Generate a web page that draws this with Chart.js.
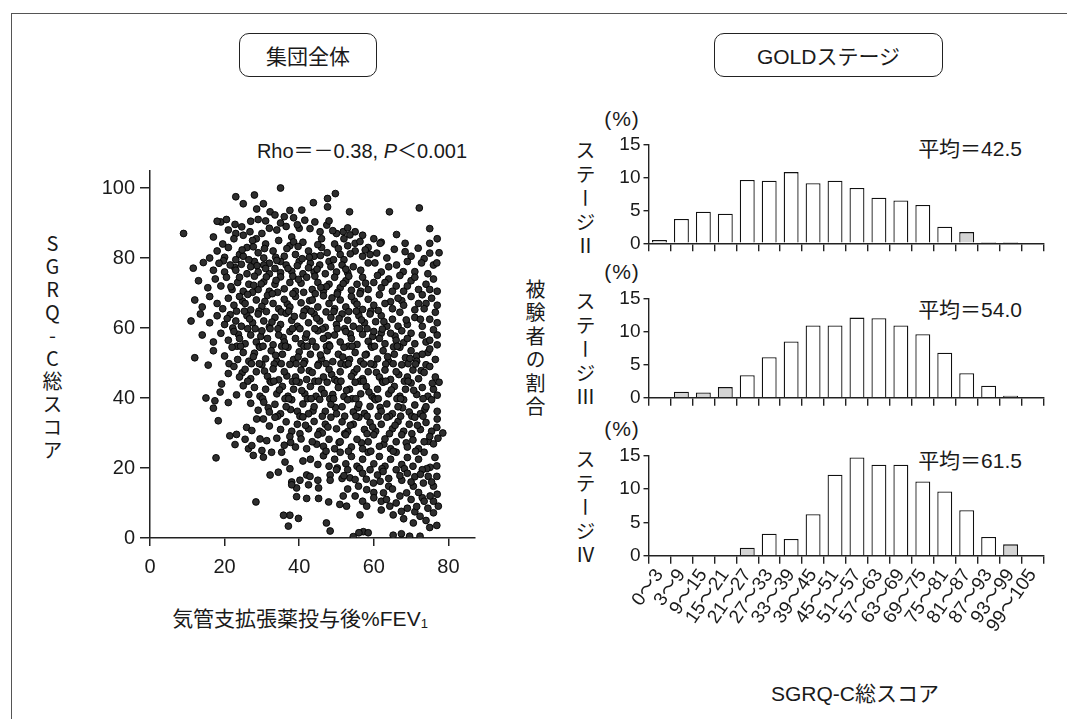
<!DOCTYPE html>
<html><head><meta charset="utf-8">
<script src="https://cdn.jsdelivr.net/npm/chart.js@4.4.1/dist/chart.umd.min.js"></script>
<style>
html,body{margin:0;padding:0;background:#fff;}
body{width:1067px;height:719px;position:relative;overflow:hidden;font-family:"Liberation Sans","Noto Sans CJK JP",sans-serif;color:#1a1a1a;}
.abs{position:absolute;white-space:nowrap;}
.frame{position:absolute;left:11px;top:13px;width:1100px;height:800px;border-left:1.5px solid #555;border-top:1.5px solid #555;}
.box{position:absolute;border:1.5px solid #222;border-radius:10px;display:flex;align-items:center;justify-content:center;font-size:21px;box-sizing:border-box;}
.vt{position:absolute;writing-mode:vertical-rl;text-orientation:upright;font-family:"Noto Sans CJK JP",sans-serif;font-size:20px;line-height:1;white-space:nowrap;}
.ctr{text-align:center;}
canvas{position:absolute;}
sub{font-size:13px;vertical-align:-2px;}
</style></head><body>
<div class="frame"></div>
<div class="box" style="left:239px;top:33px;width:138px;height:44px;">集団全体</div>
<div class="box" style="left:714px;top:33px;width:229px;height:44px;">GOLDステージ</div>
<div class="abs ctr" style="left:162px;width:400px;top:135px;font-size:20px;">Rho＝－0.38, <i>P</i>＜0.001</div>
<div class="vt" style="left:42px;top:233px;letter-spacing:3px;">SGRQ-C総スコア</div>
<div class="abs ctr" style="left:100px;width:400px;top:602px;font-size:21px;">気管支拡張薬投与後%FEV<sub>1</sub></div>
<div class="vt" style="left:525px;top:279px;letter-spacing:3.5px;">被験者の割合</div>
<div class="abs ctr" style="left:572px;width:100px;top:107px;font-size:21px;letter-spacing:1px;">(%)</div>
<div class="abs ctr" style="left:572px;width:100px;top:260px;font-size:21px;letter-spacing:1px;">(%)</div>
<div class="abs ctr" style="left:572px;width:100px;top:417px;font-size:21px;letter-spacing:1px;">(%)</div>
<div class="vt" style="left:575px;top:140px;letter-spacing:4px;">ステージⅡ</div>
<div class="vt" style="left:575px;top:291px;letter-spacing:4px;">ステージⅢ</div>
<div class="vt" style="left:575px;top:449px;letter-spacing:4px;">ステージⅣ</div>
<div class="abs" style="left:822px;width:200px;text-align:right;top:132px;font-size:21px;">平均＝42.5</div>
<div class="abs" style="left:822px;width:200px;text-align:right;top:293px;font-size:21px;">平均＝54.0</div>
<div class="abs" style="left:822px;width:200px;text-align:right;top:444px;font-size:21px;">平均＝61.5</div>
<div class="abs ctr" style="left:705px;width:300px;top:677px;font-size:21px;">SGRQ-C総スコア</div>

<canvas id="sc" width="440" height="480" style="left:60px;top:150px;"></canvas>
<canvas id="b2" width="460" height="134" style="left:600px;top:130px;"></canvas>
<canvas id="b3" width="460" height="134" style="left:600px;top:284px;"></canvas>
<canvas id="b4" width="460" height="230" style="left:600px;top:441px;"></canvas>

<script>
const FONT = '"Liberation Sans","Noto Sans CJK JP",sans-serif';
const INK = '#1a1a1a';

// SGRQ-C score bins (x categories of the histograms)
const scoreBins = ['0〜3','3〜9','9〜15','15〜21','21〜27','27〜33','33〜39','39〜45','45〜51','51〜57','57〜63','63〜69','69〜75','75〜81','81〜87','87〜93','93〜99','99〜105'];
// % of subjects per bin
const stageII  = [0.5,3.7,4.8,4.5,9.6,9.5,10.8,9.1,9.5,8.4,6.9,6.5,5.8,2.5,1.7,0.2,0.2,0];
const stageIII = [0,0.9,0.8,1.6,3.4,6.1,8.5,10.9,10.9,12.1,12.0,10.9,9.6,6.8,3.7,1.8,0.3,0.1];
const stageIV  = [0,0,0,0,1.2,3.3,2.5,6.2,12.1,14.7,13.6,13.6,11.1,9.6,6.8,2.8,1.7,0];
// bins drawn with a stippled (grey) fill
const shadedII  = [0,14,15,16];
const shadedIII = [1,2,3,16,17];
const shadedIV  = [4,16];
const yTicksPct = [0,5,10,15];
const xTicksFev = [0,20,40,60,80];
const yTicksSgrq = [0,20,40,60,80,100];

// scatter: [post-bronchodilator %FEV1, SGRQ-C total score]
const scatterPoints = [
[35,100],[28,98],[23,97.5],[49.7,98.4],[47.6,97],[43.8,95.8],[25,95.5],[30.4,95.5],[28.6,94],[37.5,93.6],[40.7,93.7],[47.6,94.6],[53.5,93.2],[64.2,93.2],[72.2,94.3],[9,87],[32.2,93.2],[33.5,92.3],[19,90.3],[22.8,89.6],[24.6,88.9],[26.8,87.5],[44.2,90.3],[47.4,89.4],[42.9,88.4],[45.6,87.5],[50,87],[51.8,87.5],[55,87.5],[53.6,86.6],[66.1,86.7],[75,88.4],
[18,90.5],[20.5,91],[21,88],[23,87],[25,86.5],[27,90.5],[29,91],[31,90.6],[35,90],[34,88],[32,88.5],[30,87],[36.5,89],[38.5,91.5],[40,88.5],[41.5,90.8],[49,87.8],[48,90.6],[53,88.6],[57,86.5],[60,85.5],[17,86],[28.5,85.5],[38,86],[46,85.5],[52,85.5],[62,84.5],[39.5,89.5],[36,91.8],
[14.3,78.7],[11.6,77.1],[16,80],[18,82],[19.5,84],[21,83],[22.5,85.5],[24,81],[26,83],[27.5,85],[29,81.5],[31,84],[33,82],[34.5,85],[36,80.5],[37.5,83.5],[39,81],[41,84.5],[42.5,82],[44,80.5],[46,83],[47.5,81.5],[49.5,84],[51,81],[53,83.5],[55,82],[57,80.5],[58.5,83],[61.7,84.2],[55,84.2],[56.3,84.7],[59,81],[60.8,81.4],[68.4,84.2],[68.4,81.8],[71.9,82.8],[75,84.2],[75,81.4],[23,79.5],[25,80.5],[28,79],[30.5,80],[32,78.5],[35,79],[40,79],[43,78.5],[48,79],[52,79.5],[20,80.2],[45,83.8],[38.5,84.6],
[24.7,82.3],[27.7,83.2],[30.7,82.7],[33.7,80.2],[36.7,82.7],[39.7,83.3],[42.7,80.2],[45.7,80.7],[50.5,82.7],[53.7,81.2],[57.7,82.3],[19.7,79.2],[22.7,77.3],[28.7,77.8],[63.5,80],[65.5,82.5],[70,80.5],[73.5,79.8],[77.5,81.5],[77,85.5],
[17,76.5],[18.5,78.5],[20,76],[21.5,78],[23,76.5],[24.5,78.2],[26,75.5],[27,77.5],[29,76],[30.5,78],[32,75.5],[33.5,77],[35,75.8],[36.5,78],[38,76.2],[39.5,77.8],[41,75.5],[42.5,77.2],[44,76],[45.5,78],[47,75.5],[48.5,77.5],[50,76],[51.5,78],[53,75.8],[54.5,77.5],[56.5,76.5],[58.5,78.6],[60.3,78.6],[62,76],[66.1,78],[67.9,76.1],[71,76.1],[72.8,78.6],[76,78],[76.9,78.6],[74.5,75.5],[64,77.5],[69,79],
[26.5,79.5],[31,77],[34,79.3],[37,77],[40.8,79.8],[44.8,76.8],[49.2,79.5],[52.5,76.8],
[13,73.5],[15.5,71.5],[17.5,74],[19,72],[20.5,74.5],[22,71],[23.5,73],[25,70.5],[26.5,72.5],[28,74.8],[29,71],[30.5,73.2],[32,70.5],[33.5,72.5],[35,74.6],[36,71.2],[37.5,73],[39,70.5],[40.5,72.8],[42,74.5],[43.5,71],[45,73],[46.5,70.5],[48,72.5],[49.5,74.5],[51,71.5],[52.5,73.5],[54,70.8],[55.5,72.5],[57,74.5],[58.5,71],[60,73],[62,71.5],[64,74],[66,72],[68,70.5],[70,73.5],[72,71],[74,72.5],[76,74],[77,70.5],[61,75],[67,75],
[24,74.5],[27.5,70.2],[31.2,74.6],[34.2,70.2],[38.3,74.8],[41.2,70.2],[44.2,74.8],[47.3,71.8],[50.3,70.2],[53.3,74.8],[56.5,70.5],[29.8,72.6],
[21.7,71.8],[24.8,67.7],[27.8,72.2],[30.8,67.6],[33.8,73.6],[36.8,66.9],[39.8,73.9],[42.8,67.8],[45.8,71.6],[48.8,68.6],[51.8,72.7],[54.8,67.7],[57.8,72.8],
[63,73],[65,70.5],[69,72],[71,74.5],[73,69.5],[75,71],[64.5,67.5],[67.5,67.8],[71,65.2],[74,67],
[12,68],[14,66],[16,69],[18,67],[19.5,65.5],[21,68.5],[22.5,66.5],[24,69],[25.5,67],[27,65.2],[28.5,68],[30,66.2],[31.5,69.3],[33,67],[34.5,65.5],[36,68.2],[37.5,66],[39,69],[40.5,67.2],[42,65.4],[43.5,68],[45,66],[46.5,69.2],[48,67],[49.5,65.5],[51,68],[52.5,66],[54,69],[55.5,66.8],[57,65.3],[58.5,68.2],[60,66.5],[61.5,69.5],[63,67],[65,65.5],[66.5,68.5],[68,66.5],[70,69],[72,67],[73.5,65.5],[75.5,68.5],[77,66.5],
[23.2,64.8],[26.2,69.6],[29.2,64.8],[32.8,69.8],[35.2,64.6],[38.3,69.8],[41.3,64.8],[44.3,69.8],[47.2,64.6],[50.2,69.7],[53.3,64.7],[56.3,69.8],[59.2,64.8],
[11,62],[13.5,64],[16,61.5],[18,63.5],[20,61],[21.5,63.8],[23,62],[24.5,60.5],[26,63.5],[27.5,61.5],[29,64],[30.5,62],[32,60.3],[33.5,63],[35,61],[36.5,64.2],[38,62.2],[39.5,60.5],[41,63.5],[42.5,61.5],[44,64],[45.5,62],[47,60.2],[48.5,63],[50,61],[51.5,64],[53,62.2],[54.5,60.5],[56,63.5],[57.5,61.5],[59,64],[60.5,61.8],[62,63.5],[63.5,60.5],[65,62.5],[67,64.5],[69,61],[71,63],[73,60.5],[75,62.5],[77,61.5],[76.5,64.5],
[22.2,60],[25.3,64.8],[28.2,59.8],[31.2,64.7],[34.3,59.8],[37.2,64.8],[40.2,59.8],[43.2,64.8],[46.2,59.7],[49.3,64.7],[52.2,59.8],[55.3,64.8],[58.2,59.8],[61.2,65],
[20.7,62.7],[23.7,58.2],[26.7,62.6],[29.7,57.6],[32.7,61.7],[35.7,57.3],[38.7,63.3],[41.7,57.3],[44.7,62.8],[47.7,57.8],[50.7,62.7],[53.7,58.3],[56.7,62.3],[59.7,57.6],[62.7,61.8],[65.7,57.7],[68.7,62.3],
[62,58.5],[66.5,60.5],[70,58.5],[72.5,62.5],[74,56],[68,55.8],[71.5,52],[74.5,53],[77,58],
[14,58],[17,56],[19,58.5],[21,56.5],[22.5,59],[24,57],[25.5,55.5],[27,58],[28.5,56],[30,59.2],[31.5,57],[33,55.2],[34.5,58],[36,56],[37.5,59],[39,57],[40.5,55.5],[42,58.3],[43.5,56.2],[45,59.2],[46.5,57],[48,55.2],[49.5,58],[51,56],[52.5,59],[54,57],[55.5,55.3],[57,58.2],[58.5,56.2],[60,59],[61.5,57],[63,55.5],[64.5,58.5],[66,56.5],[67.5,59.2],[69,57],[71,55.5],[73,58],[75,56.5],[77,55.2],[76,59.5],
[23.3,54.8],[26.2,59.8],[29.3,54.7],[32.2,59.8],[35.3,54.8],[38.2,59.8],[41.3,54.8],[44.2,59.8],[47.3,54.7],[50.2,59.8],[53.2,54.8],[56.2,59.8],[59.3,54.8],[62.3,59.7],[65.3,54.6],
[12,51.5],[15.6,49.4],[17,53.5],[20,52],[22,54.5],[23.5,51],[25,53],[26.5,50.5],[28,52.8],[29.5,54.5],[31,51.2],[32.5,53.5],[34,50.5],[35.5,52.5],[37,54.5],[38.5,51],[40,53.2],[41.5,50.5],[43,52.5],[44.5,54.6],[46,51.2],[47.5,53.5],[49,50.4],[50.5,52.5],[52,54.5],[53.5,51],[55,53],[56.5,50.5],[58,52.5],[59.5,54.5],[61,51.2],[62.5,53.5],[64,50.5],[65.5,52.5],[67,54.5],[68.5,51.5],[70,53.5],[71.5,50.5],[73,52.5],[75,54],[76.5,51],[74,49.5],
[21.2,49.8],[24.3,54.8],[27.2,49.8],[30.3,54.8],[33.3,49.7],[36.3,54.8],[39.2,49.8],[42.2,54.8],[45.2,49.7],[48.2,54.8],[51.2,49.8],[54.2,54.8],[57.3,49.7],[60.2,54.8],[63.2,49.7],[66.3,54.8],[69.2,49.8],
[24.7,47.2],[27.7,51.8],[30.7,47.7],[33.7,52.2],[36.7,46.3],[39.7,51.7],[42.7,47.8],[45.7,52.3],[48.7,46.7],[51.7,51.7],[54.7,47.3],[57.7,52.3],[60.7,47.3],[63.7,51.8],[66.7,46.7],[69.7,51.3],[72.7,47.8],
[19.2,44],[21,47],[22.5,49],[24,46],[25.5,48.2],[27,45.5],[28.5,47.5],[30,49.5],[31.5,46.2],[33,48.3],[34.5,45.2],[36,47.5],[37.5,49.6],[39,46],[40.5,48],[42,45.3],[43.5,47.3],[45,49.3],[46.5,46],[48,48.2],[49.5,45.3],[51,47.5],[52.5,49.5],[54,46.2],[55.5,48.3],[57,45.5],[58.5,47.5],[60,49.5],[61.5,46],[63,48],[64.5,45.3],[66,47.5],[67.5,49.5],[69,46],[70.5,48],[72,45.5],[73.5,47.3],[75,49],[76.5,46],[77.5,44.5],
[26.2,44.8],[29.3,49.8],[32.2,44.8],[35.2,49.8],[38.2,44.7],[41.2,49.8],[44.2,44.8],[47.2,49.8],[50.2,44.8],[53.2,49.8],[56.3,44.8],[59.2,49.8],[62.3,44.8],[65.2,49.8],[68.2,44.8],[71.2,49.7],
[15,40],[18.8,41.7],[23.2,40.9],[25,43.5],[26.5,41],[28,43],[29.5,40.5],[31,42.5],[32.5,44.5],[34,41.2],[35.5,43.3],[37,40.5],[38.5,42.5],[40,44.5],[41.5,41.2],[43,43.3],[44.5,40.5],[46,42.5],[47.5,44.5],[49,41],[50.5,43],[52,40.4],[53.5,42.5],[55,44.5],[56.5,41.2],[58,43.3],[59.5,40.5],[61,42.5],[62.5,44.5],[64,41.2],[65.5,43.3],[67,40.5],[68.5,42.5],[70,44.3],[71.5,41],[73,43],[74.5,40.5],[76,42.5],[77,40.8],
[30.2,39.8],[33.2,44.8],[36.2,39.8],[39.2,44.8],[42.2,39.8],[45.2,44.8],[48.2,39.8],[51.2,44.8],[54.2,39.8],[57.2,44.8],[60.2,39.8],[63.2,44.8],[66.2,39.8],[69.2,44.8],
[31.7,37.2],[34.7,42.3],[37.7,36.7],[40.7,42.1],[43.7,36.3],[46.7,41.3],[49.7,37.3],[52.7,42.2],[55.7,37.2],[58.7,41.7],[61.7,37.3],[64.7,42.3],[67.7,37.2],[70.7,42.2],[73.7,36.8],[75.7,44.2],
[17.4,39.2],[17,37.1],[21,38.7],[27,38.5],[29,36.5],[30.5,38.8],[32,36],[33.5,38.2],[35,35.5],[36.5,37.5],[38,39.5],[39.5,36.2],[41,38.3],[42.5,35.5],[44,37.5],[45.5,39.6],[47,36.2],[48.5,38.2],[50,35.5],[51.5,37.5],[53,39.5],[54.5,36],[56,38.2],[57.5,35.6],[59,37.6],[60.5,39.5],[62,36.2],[63.5,38.3],[65,35.5],[66.5,37.5],[68,39.5],[69.5,36],[71,38],[72.5,35.5],[74,37.5],[75.5,39.5],[77,36.2],
[34.2,34.8],[37.2,39.8],[40.2,34.8],[43.2,39.8],[46.2,34.8],[49.2,39.8],[52.2,34.8],[55.2,39.8],[58.2,34.8],[61.2,39.8],[64.2,34.8],[67.2,39.8],[70.2,34.8],[73.2,39.8],
[18.3,33.5],[28.6,34],[30.4,34],[25.9,31.6],[27.3,30.7],[32,32],[33.5,34.5],[35,31],[36.5,33.2],[38,30.5],[39.5,32.5],[41,34.6],[42.5,31.2],[44,33.3],[45.5,30.5],[47,32.5],[48.5,34.5],[50,31.2],[51.5,33.2],[53,30.4],[54.5,32.5],[56,34.5],[57.5,31],[59,33],[60.5,30.5],[62,32.5],[63.5,34.5],[65,31.2],[66.5,33.3],[68,30.5],[69.5,32.5],[71,34.5],[72.5,31],[74,33],[75.5,30.5],[76.9,31.6],[78.5,30],[77,34],
[40.2,29.8],[46.2,30],[52.2,29.8],[55.2,34.8],[58.2,29.8],[61.2,34.8],[64.2,29.8],[67.2,34.8],[70.2,29.8],[73.2,34.8],
[37.7,27.3],[41.7,32.2],[44.7,26.8],[47.7,31.7],[50.7,27.3],[53.7,32.2],[56.7,27.2],[59.7,31.7],[62.7,26.8],[65.7,32.2],[68.7,27.2],[71.7,32.2],[74.7,27.6],[77.2,28.5],
[21.4,29.2],[23.2,29.6],[25.5,28.2],[22.8,26.7],[26.4,25.5],[31.3,27.8],[29.5,28.3],[27.3,26.4],[30,25],[32.6,24.5],[34,28.5],[36,26.5],[37.5,29],[39,26],[40.5,28.3],[42,25.5],[43.5,27.5],[45,29.5],[46.5,26.2],[48,28.2],[49.5,25.5],[51,27.5],[52.5,29.5],[54,26],[55.5,28.2],[57,25.5],[58.5,27.5],[60,29.5],[61.5,26.2],[63,28.3],[64.5,25.5],[66,27.5],[67.5,29.5],[69,26],[70.5,28],[72,25.5],[73.5,27.5],[75,29],[76,26.9],
[17.7,22.9],[27.7,23.6],[30.4,23.1],[35.3,24.5],[36.2,21.7],[41,22],[43,22.5],[45,21],[46.5,23.5],[48,20.5],[49.5,22.5],[51,24.5],[52.5,21.2],[54,23.3],[55.5,20.5],[57,22.5],[58.5,24.5],[60,21.2],[61.5,23.3],[63,20.5],[64.5,22.5],[66,24.5],[67.5,21],[69,23],[70.5,20.5],[72,22.5],[73.5,24.5],[75.1,20.2],[76.4,23],[76.9,20.6],
[47.2,24.8],[50.2,20],[53.2,24.8],[56.2,19.8],[59.2,24.8],[62.2,19.8],[65.2,24.8],[68.2,19.8],[71.2,24.8],[74.2,19.8],
[32.2,18],[34.4,18.8],[37.5,19.8],[38,16],[40.2,16.5],[42,18],[42.5,15.2],[42.9,17.6],[48.3,18],[48.3,16.5],[50,19.5],[51.5,17],[53.6,17.2],[55.9,14.8],[57,18.5],[59.9,15.7],[61.7,16.2],[59,19.5],[62.5,19],[64,17],[66,19.5],[67.5,16.5],[69,18.5],[70.6,14.8],[71,17.5],[73.3,15.7],[74.6,17.6],[76.9,17.6],[73,19.5],[76,14.8],[45,16.5],[53,19.5],
[52,17.8],[55,16.7],[58,16.8],[61,18],[64,14.8],[67,17.8],[70,16],[72.5,18.2],[75.5,16],[60,13],[66,10],[71,7.5],[73,11.5],[76,10.5],[68,5.5],[62,10.5],
[39.3,14.3],[38,15.2],[45.2,14.3],[47.9,10.3],[45.2,11.3],[42,11.3],[39.3,11.8],[51.8,12],[58.1,13.8],[62.6,12.9],[63.4,11],[68.8,12.9],[67,12],[75.1,12],[55,12],[57,10.5],[60,11.5],[65,14],[70,11],[72,13],[73.5,10.5],[77,12.5],[28.4,10.3],[53,14],
[39.8,5.6],[37.5,6.5],[35.8,6.5],[37.1,3.4],[47.3,4.3],[48.3,2],[54.5,0.4],[57.2,1.8],[58.5,1.5],[56,1.5],[65.2,0.8],[67.4,1.2],[69.6,0.5],[72.4,0.5],[76.9,3.6],[72.4,6.2],[70.6,4.3],[76,7.2],[77.3,9.1],[64.3,9.1],[65.2,6.6],[67.4,7.6],[58.1,9.1],[56.3,6.6],[52.7,9.1],[50.9,9.6],[74,5],[69,8.5],[62,8],[71.5,9],[74.5,8.5],[75,3]
];

const axisGrey = '#222';

new Chart(document.getElementById('sc'), {
  type: 'scatter',
  data: { datasets: [{
    data: scatterPoints.map(p => ({x: p[0], y: p[1]})),
    pointRadius: 3.4, pointBackgroundColor: '#2e2e2e', pointBorderColor: '#000', pointBorderWidth: 0.9
  }]},
  options: {
    responsive: false, animation: false,
    layout: { padding: { top: 20.5, right: 25.5, left: 0, bottom: 0 } },
    plugins: { legend: { display: false }, tooltip: { enabled: false } },
    scales: {
      x: {
        type: 'linear', min: 0, max: 87,
        afterFit(s) { s.height = 92; },
        afterBuildTicks(s) { s.ticks = xTicksFev.map(v => ({value: v})); },
        ticks: { font: { size: 20, family: FONT }, color: INK, padding: 9, maxRotation: 0 },
        grid: { drawOnChartArea: false, drawTicks: true, tickLength: 8, color: axisGrey, lineWidth: 1.5 },
        border: { display: true, color: axisGrey, width: 1.5 }
      },
      y: {
        type: 'linear', min: 0, max: 105,
        afterFit(s) { s.width = 90; },
        afterBuildTicks(s) { s.ticks = yTicksSgrq.map(v => ({value: v})); },
        ticks: { font: { size: 20, family: FONT }, color: INK, padding: 5 },
        grid: { drawOnChartArea: false, drawTicks: true, tickLength: 10, color: axisGrey, lineWidth: 1.5 },
        border: { display: true, color: axisGrey, width: 1.5 }
      }
    }
  }
});

function makeHist(id, values, shaded, padTop, xAxisH, showLabels) {
  const light = '#d4d4d4', dark = '#8a8a8a';
  const bg = values.map((v, i) => shaded.includes(i) ? (v < 0.5 ? dark : light) : '#ffffff');
  new Chart(document.getElementById(id), {
    type: 'bar',
    data: { labels: scoreBins, datasets: [{
      data: values.map(v => v === 0 ? null : v),
      backgroundColor: bg, borderColor: '#111', borderWidth: 1.3, borderSkipped: 'bottom',
      barPercentage: 0.68, categoryPercentage: 1.0
    }]},
    options: {
      responsive: false, animation: false,
      layout: { padding: { top: padTop, right: 16.5, left: 0, bottom: 0 } },
      plugins: { legend: { display: false }, tooltip: { enabled: false } },
      scales: {
        x: {
          afterFit(s) { s.height = xAxisH; },
          ticks: { display: showLabels, autoSkip: false, minRotation: 55, maxRotation: 55,
                   font: { size: 19, family: FONT }, color: INK, padding: 1 },
          grid: { offset: true, drawOnChartArea: false, drawTicks: true, tickLength: 8, color: axisGrey, lineWidth: 1.4 },
          border: { display: true, color: axisGrey, width: 1.4 }
        },
        y: {
          min: 0, max: 15,
          afterFit(s) { s.width = 48.5; },
          afterBuildTicks(s) { s.ticks = yTicksPct.map(v => ({value: v})); },
          ticks: { font: { size: 19, family: FONT }, color: INK, padding: 3 },
          grid: { drawOnChartArea: false, drawTicks: true, tickLength: 5, color: axisGrey, lineWidth: 1.4 },
          border: { display: true, color: axisGrey, width: 1.4 }
        }
      }
    }
  });
}
makeHist('b2', stageII, shadedII, 14, 20.7, false);
makeHist('b3', stageIII, shadedIII, 14.3, 20.3, false);
makeHist('b4', stageIV, shadedIV, 14, 115.3, true);
</script>
</body></html>
